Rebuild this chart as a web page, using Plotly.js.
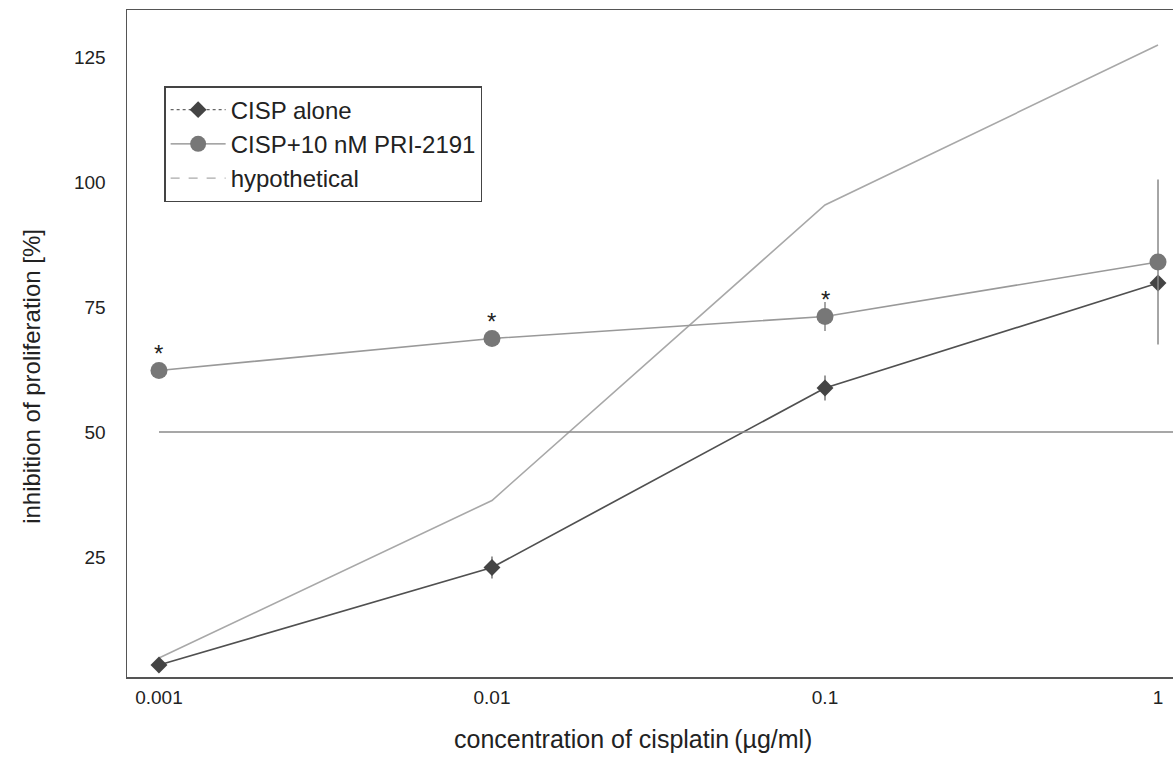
<!DOCTYPE html>
<html>
<head>
<meta charset="utf-8">
<script src="https://cdn.plot.ly/plotly-3.0.1.min.js"></script>
<style>html,body{margin:0;padding:0;background:#fff;}</style>
</head>
<body>
<div id="chart" style="width:1173px;height:758px;"></div>
<script>
// Data
const concentrations = [0.001, 0.01, 0.1, 1];
const tickLabels = ["0.001", "0.01", "0.1", "1"];
const cispAlone = [3.4, 22.9, 58.8, 79.8];
const cispAloneErr = [0.5, 2.2, 2.5, 0.8];
const cispPri = [62.3, 68.7, 73.1, 84.0];
const cispPriErr = [1.0, 1.0, 2.9, 16.5];
const hypothetical = [4.8, 36.3, 95.4, 127.4];
const yTicks = [25, 50, 75, 100, 125];
const referenceLevel = 50;
const significant = [true, true, true, false];
const xTitle = 'concentration of cisplatin\u2009(µg/ml)';
const yTitle = 'inhibition of proliferation [%]';

const fontFam = 'Liberation Sans, Arial, sans-serif';

const traces = [
  {x: concentrations, y: hypothetical, mode: 'lines', type: 'scatter',
   line: {color: '#a8a8a8', width: 1.6}, showlegend: false, hoverinfo: 'skip'},
  {x: concentrations, y: cispAlone, mode: 'lines+markers', type: 'scatter',
   line: {color: '#505050', width: 1.7},
   marker: {symbol: 'diamond', size: 13, color: '#444'},
   error_y: {type: 'data', array: cispAloneErr, visible: true, color: '#777', thickness: 1.5, width: 0},
   showlegend: false},
  {x: concentrations, y: cispPri, mode: 'lines+markers', type: 'scatter',
   line: {color: '#999', width: 1.6},
   marker: {symbol: 'circle', size: 17, color: '#777'},
   error_y: {type: 'data', array: cispPriErr, visible: true, color: '#888', thickness: 1.5, width: 0},
   showlegend: false},
  // legend entries
  {x: [null], y: [null], name: 'CISP alone', mode: 'lines+markers', type: 'scatter',
   line: {color: '#666', width: 1.2, dash: 'dot'}, marker: {symbol: 'diamond', size: 13, color: '#444'}},
  {x: [null], y: [null], name: 'CISP+10 nM PRI-2191', mode: 'lines+markers', type: 'scatter',
   line: {color: '#888', width: 1.4}, marker: {symbol: 'circle', size: 17, color: '#777'}},
  {x: [null], y: [null], name: 'hypothetical', mode: 'lines', type: 'scatter',
   line: {color: '#aaa', width: 1.2, dash: 'dash'}}
];

const annotations = [];
concentrations.forEach((c, i) => {
  if (significant[i]) {
    annotations.push({x: Math.log10(c), y: cispPri[i], xref: 'x', yref: 'y', text: '*',
      showarrow: false, yanchor: 'bottom', yshift: 2,
      font: {family: fontFam, size: 24, color: '#222'}});
  }
});
annotations.push({text: xTitle, xref: 'paper', yref: 'paper', x: 0.484, y: -0.093,
  xanchor: 'center', yanchor: 'middle', showarrow: false,
  font: {family: fontFam, size: 25, color: '#222'}});
annotations.push({text: yTitle, xref: 'paper', yref: 'paper', x: -0.0908, y: 0.45,
  xanchor: 'center', yanchor: 'middle', textangle: -90, showarrow: false,
  font: {family: fontFam, size: 24, color: '#222'}});

const layout = {
  width: 1173, height: 758,
  margin: {l: 127, r: 0, t: 10, b: 81},
  paper_bgcolor: '#fff', plot_bgcolor: '#fff',
  font: {family: fontFam, size: 19, color: '#222'},
  xaxis: {
    type: 'log', range: [-3.096, 0.045],
    tickvals: concentrations, ticktext: tickLabels,
    showgrid: false, zeroline: false,
    showline: true, linecolor: '#555', linewidth: 1.5, mirror: true,
    ticks: 'outside', ticklen: 3, tickcolor: 'rgba(0,0,0,0)',
    tickfont: {size: 19, color: '#222'}
  },
  yaxis: {
    range: [1, 134.4],
    tickvals: yTicks,
    showgrid: false, zeroline: false,
    showline: true, linecolor: '#555', linewidth: 1.5, mirror: true,
    ticks: 'outside', ticklen: 16, tickcolor: 'rgba(0,0,0,0)',
    tickfont: {size: 19, color: '#222'}
  },
  shapes: [
    {type: 'line', xref: 'paper', yref: 'y', x0: 0.0306, x1: 1, y0: referenceLevel, y1: referenceLevel,
     line: {color: '#8a8a8a', width: 1.6}}
  ],
  annotations: annotations,
  legend: {
    x: 0.0355, y: 0.886, xanchor: 'left', yanchor: 'top',
    bgcolor: '#fff', bordercolor: '#444', borderwidth: 1.5,
    font: {size: 24, color: '#222'}, itemwidth: 55
  },
  showlegend: true
};

Plotly.newPlot('chart', traces, layout, {displayModeBar: false, staticPlot: true});
</script>
</body>
</html>
